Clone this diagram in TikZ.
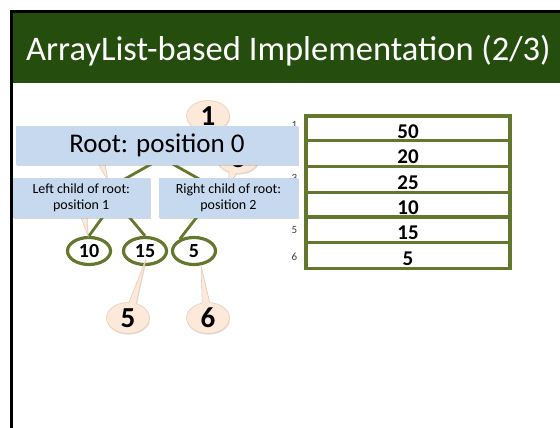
\documentclass[tikz,border=0pt]{standalone}
\usepackage{fontspec}
\setmainfont{Carlito}
\usetikzlibrary{shapes.geometric,shapes.callouts,shadows}

\definecolor{hdr}{RGB}{37,77,14}
\definecolor{olive}{RGB}{100,120,45}
\definecolor{boxblue}{RGB}{198,217,238}
\definecolor{peach}{RGB}{253,233,217}
\definecolor{peachedge}{RGB}{236,205,182}

\begin{document}
\begin{tikzpicture}[x=1pt,y=-1pt,
  infobox/.style={fill=boxblue, draw=none, inner sep=0, align=center,
    drop shadow={shadow xshift=1pt, shadow yshift=-1.2pt, opacity=0.3}},
  heapnode/.style={ellipse, draw=olive, line width=3.2pt, fill=white,
    minimum width=43pt, minimum height=27pt, inner sep=0,
    font=\fontsize{20}{20}\selectfont\bfseries},
  treeline/.style={draw=olive, line width=2.8pt},
  bubble/.style={ellipse callout, fill=peach, draw=peachedge, line width=0.6pt,
    minimum width=43pt, minimum height=31pt, inner sep=0, callout pointer arc=20,
    font=\fontsize{29}{29}\selectfont\bfseries,
    drop shadow={shadow xshift=0.6pt, shadow yshift=-1.2pt, opacity=0.25}},
  cell/.style={draw=olive, line width=3.2pt, fill=white, minimum width=204pt,
    inner sep=0, text height=19.5pt, text depth=0pt,
    font=\fontsize{21}{21}\selectfont\bfseries,
    drop shadow={shadow xshift=1pt, shadow yshift=-1.2pt, opacity=0.3}},
  idx/.style={font=\fontsize{11}{11}\selectfont, text=black!75, anchor=east, inner sep=0}
]
\useasboundingbox (0,0) rectangle (560,428);
\fill[white] (0,0) rectangle (560,428);

% slide header and frame
\fill[hdr] (12.5,12.5) rectangle (560,83);
\draw[black, line width=2.5pt] (11.3,428) -- (11.3,11.3) -- (560,11.3);
\node[anchor=base west, text=white, font=\fontsize{34.5}{34.5}\selectfont, inner sep=0]
  (title) at (26,61) {ArrayList-based Implementation (2/3)};

% heap nodes on the bottom level
\node[heapnode] (e10) at (89,251) {10};
\node[heapnode] (e15) at (145,251) {15};
\node[heapnode] (e5)  at (194,251) {5};

% tree edges (upper parts run under the label boxes)
\coordinate (r0)  at (162,158);
\coordinate (rl)  at (116,184);
\coordinate (rr)  at (208,184);
\coordinate (c20) at (115,200);
\coordinate (c25) at (210,200);
\draw[treeline] (r0) -- (rl);
\draw[treeline] (r0) -- (rr);
\draw[treeline] (c20) -- (e10.north);
\draw[treeline] (c20) -- (e15.north);
\draw[treeline] (c25) -- (e5.140);

% numbered callouts
\node[bubble, callout absolute pointer={(205,140)}] (b1) at (208,116) {1};
\node[bubble, callout absolute pointer={(108,181)}] (b2) at (95,146) {};
\node[bubble, callout absolute pointer={(228,186)}] (b3) at (238,158) {3};
\node[bubble, callout absolute pointer={(88,236)}]  (b4) at (80,198) {};
\node[bubble, callout absolute pointer={(146,259)}] (b5) at (128,318) {5};
\node[bubble, callout absolute pointer={(201,266)}] (b6) at (208,318) {6};

% array indices
\node[idx] (i1) at (297.5,124.5) {1};
\node[idx] (i3) at (297.5,177.5) {3};
\node[idx] (i5) at (297.5,230.5) {5};
\node[idx] (i6) at (297.5,257) {6};

% position labels
\node[infobox, minimum width=282pt, minimum height=39pt,
  font=\fontsize{27}{27}\selectfont] (root) at (157,145.5) {Root: position 0};
\node[infobox, minimum width=137.5pt, minimum height=40pt,
  font=\fontsize{14}{16.5}\selectfont] (left) at (81.25,198) {Left child of root:\\position 1};
\node[infobox, minimum width=139pt, minimum height=40pt,
  font=\fontsize{14}{16.5}\selectfont] (right) at (228.5,198) {Right child of root:\\position 2};

% array contents
\node[cell, minimum height=24.5pt] (a1) at (408,128.25) {50};
\node[cell, minimum height=26pt]   (a2) at (408,153.5)  {20};
\node[cell, minimum height=26pt]   (a3) at (408,179.5)  {25};
\node[cell, minimum height=24.5pt] (a4) at (408,204.75) {10};
\node[cell, minimum height=25.5pt] (a5) at (408,229.75) {15};
\node[cell, minimum height=26pt]   (a6) at (408,255.5)  {5};
\end{tikzpicture}
\end{document}
